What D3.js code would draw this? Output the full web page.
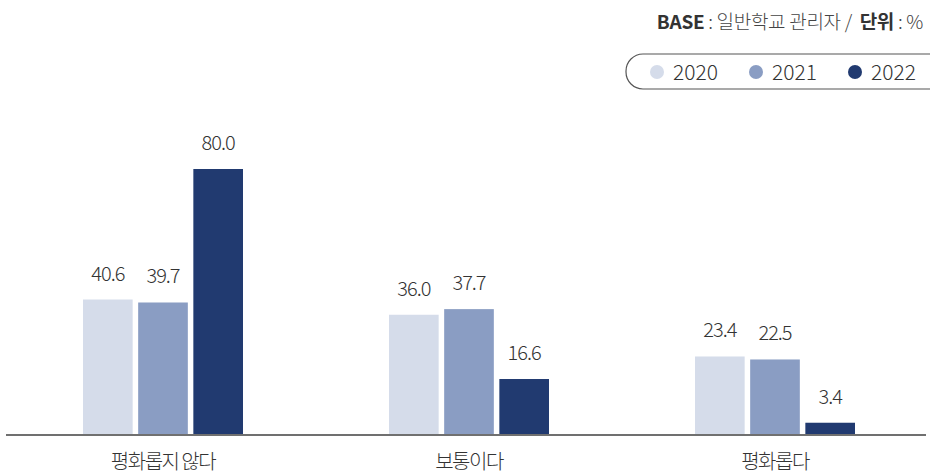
<!DOCTYPE html>
<html>
<head>
<meta charset="utf-8">
<script src="https://cdn.jsdelivr.net/npm/d3@7"></script>
<style>
  body { margin: 0; background: #fff; }
  text { font-family: "Noto Sans CJK KR", "Noto Sans", sans-serif; }
</style>
</head>
<body>
<script>
// chart size
const width = 930, height = 476;
const margin = { top: 100, right: 2, bottom: 42, left: 10 };

// data
const categories = ["평화롭지 않다", "보통이다", "평화롭다"];
const years = ["2020", "2021", "2022"];
const v2020 = [40.6, 36.0, 23.4];
const v2021 = [39.7, 37.7, 22.5];
const v2022 = [80.0, 16.6, 3.4];
const colors = ["#d5dcea", "#8a9dc3", "#213a70"];

const series = [v2020, v2021, v2022];

const svg = d3.select("body").append("svg")
  .attr("width", width)
  .attr("height", height);

const x = d3.scaleBand()
  .domain(categories)
  .range([margin.left, width - margin.right]);

const xInner = d3.scaleBand()
  .domain(years)
  .range([-80, 80])
  .paddingInner(0.1);

const y = d3.scaleLinear()
  .domain([0, 80])
  .range([height - margin.bottom, 169]);

// bars
const groups = svg.selectAll("g.grp")
  .data(categories)
  .enter().append("g")
  .attr("class", "grp")
  .attr("transform", d => `translate(${x(d) + x.bandwidth() / 2},0)`);

groups.each(function(cat, ci) {
  const g = d3.select(this);
  const rows = years.map((yr, si) => ({ yr, v: series[si][ci], c: colors[si] }));
  g.selectAll("rect")
    .data(rows)
    .enter().append("rect")
    .attr("x", d => xInner(d.yr))
    .attr("y", d => y(d.v))
    .attr("width", xInner.bandwidth())
    .attr("height", d => y(0) - y(d.v))
    .attr("fill", d => d.c);
  g.selectAll("text.val")
    .data(rows)
    .enter().append("text")
    .attr("class", "val")
    .attr("x", d => xInner(d.yr) + xInner.bandwidth() / 2)
    .attr("y", d => y(d.v) - 19)
    .attr("text-anchor", "middle")
    .attr("font-family", "Roboto, sans-serif")
    .attr("font-weight", 300)
    .attr("font-size", 20)
    .attr("letter-spacing", -1)
    .attr("fill", "#333")
    .text(d => d.v.toFixed(1));
});

// axis baseline
svg.append("line")
  .attr("x1", 6).attr("x2", 926)
  .attr("y1", y(0) + 1).attr("y2", y(0) + 1)
  .attr("stroke", "#707070")
  .attr("stroke-width", 2);

// category labels
svg.selectAll("text.cat")
  .data(categories)
  .enter().append("text")
  .attr("class", "cat")
  .attr("x", d => x(d) + x.bandwidth() / 2)
  .attr("y", 469)
  .attr("text-anchor", "middle")
  .attr("font-size", 20)
  .attr("font-weight", 300)
  .attr("letter-spacing", -1.5)
  .attr("fill", "#333")
  .text(d => d);

// header note
const note = svg.append("text")
  .attr("x", 923).attr("y", 29)
  .attr("text-anchor", "end")
  .attr("font-size", 19)
  .attr("font-weight", 300)
  .attr("letter-spacing", -0.3)
  .attr("fill", "#444")
  .attr("xml:space", "preserve");
note.append("tspan").attr("font-weight", "bold").attr("fill", "#333").text("BASE");
note.append("tspan").text(" : 일반학교 관리자 /  ");
note.append("tspan").attr("font-weight", "bold").attr("fill", "#333").text("단위");
note.append("tspan").text(" : %");

// legend pill
svg.append("rect")
  .attr("x", 626).attr("y", 54)
  .attr("width", 340).attr("height", 35)
  .attr("rx", 17)
  .attr("fill", "none")
  .attr("stroke", "#555")
  .attr("stroke-width", 1.2);

const leg = svg.selectAll("g.leg")
  .data(years)
  .enter().append("g")
  .attr("class", "leg")
  .attr("transform", (d, i) => `translate(${657 + i * 99},72)`);
leg.append("circle")
  .attr("r", 7)
  .attr("fill", (d, i) => colors[i]);
leg.append("text")
  .attr("x", 16).attr("y", 8)
  .attr("font-family", "Roboto, sans-serif")
  .attr("font-weight", 300)
  .attr("font-size", 21)
  .attr("fill", "#333")
  .text(d => d);
</script>
</body>
</html>
